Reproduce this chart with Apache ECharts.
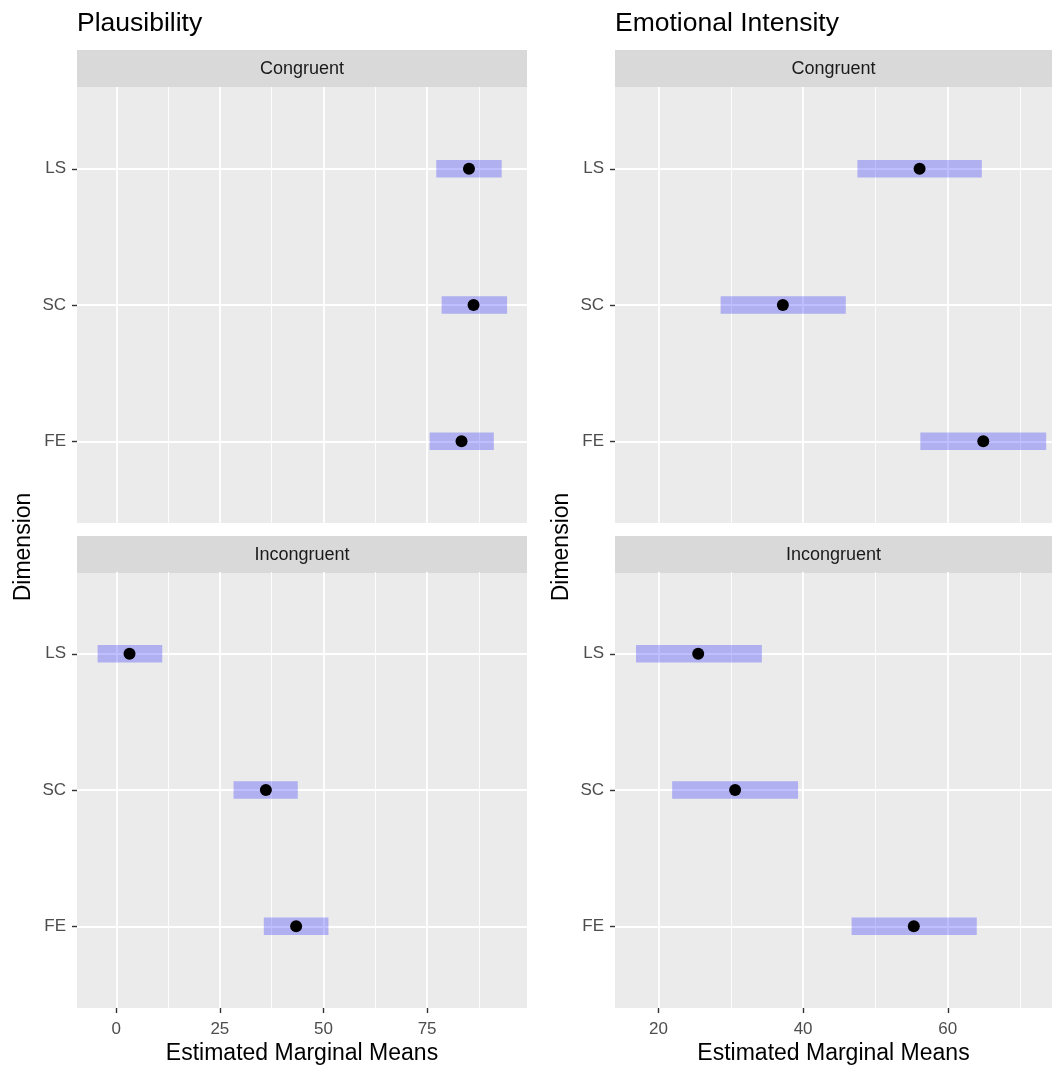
<!DOCTYPE html>
<html>
<head>
<meta charset="utf-8">
<script src="https://cdn.jsdelivr.net/npm/echarts@6/dist/echarts.min.js"></script>
<style>html,body{margin:0;padding:0;background:#fff}#c{width:1055px;height:1066px}</style>
</head>
<body>
<div id="c"></div>
<script>
// ---- data ----
const dims = ['FE', 'SC', 'LS'];
const facets = ['Congruent', 'Incongruent'];
const panelTitles = ['Plausibility', 'Emotional Intensity'];
const axisTitle = 'Estimated Marginal Means';
const yTitle = 'Dimension';

const plausCongMean  = [83.3, 86.2, 85.1];
const plausCongLower = [75.6, 78.5, 77.2];
const plausCongUpper = [91.1, 94.3, 93.0];

const plausIncMean  = [43.4, 36.1, 3.2];
const plausIncLower = [35.6, 28.3, -4.5];
const plausIncUpper = [51.2, 43.8, 11.1];

const emoCongMean  = [64.9, 37.2, 56.1];
const emoCongLower = [56.2, 28.6, 47.5];
const emoCongUpper = [73.6, 45.9, 64.7];

const emoIncMean  = [55.3, 30.6, 25.5];
const emoIncLower = [46.7, 21.9, 16.9];
const emoIncUpper = [64.0, 39.3, 34.3];

const plausTicks = [0, 25, 50, 75];
const plausMinor = [12.5, 37.5, 62.5, 87.5];
const emoTicks = [20, 40, 60];
const emoMinor = [30, 50, 70];

// ---- layout ----
const cols = [
  {left: 77, width: 450, min: -9.47, max: 99.1, ticks: plausTicks, minor: plausMinor,
   data: [[plausCongMean, plausCongLower, plausCongUpper], [plausIncMean, plausIncLower, plausIncUpper]]},
  {left: 615, width: 437, min: 14.0, max: 74.4, ticks: emoTicks, minor: emoMinor,
   data: [[emoCongMean, emoCongLower, emoCongUpper], [emoIncMean, emoIncLower, emoIncUpper]]}
];
const rows = [{top: 87, height: 436, stripTop: 50}, {top: 572, height: 436, stripTop: 536}];
const stripH = 37;
const FONT = 'Liberation Sans, Arial, sans-serif';

const grids = [], xAxes = [], yAxes = [], series = [], graphics = [];
const dimLevels = dims.map((d, i) => i + 1);

cols.forEach((col, ci) => {
  rows.forEach((row, ri) => {
    const gi = grids.length;
    const isBottom = ri === 1;
    grids.push({left: col.left, top: row.top, width: col.width, height: row.height,
      backgroundColor: '#EBEBEB', show: true, borderWidth: 0,
      containLabel: false, outerBoundsMode: 'none'});
    xAxes.push({
      type: 'value', gridIndex: gi, min: col.min, max: col.max, position: 'bottom',
      axisLine: {show: false, onZero: false},
      splitLine: {show: false},
      axisTick: {show: isBottom, length: 5, customValues: col.ticks, lineStyle: {color: '#333333', width: 1.4}},
      axisLabel: {show: isBottom, customValues: col.ticks, margin: 13, fontSize: 17,
        color: '#4D4D4D', fontFamily: FONT},
      name: isBottom ? axisTitle : '', nameLocation: 'middle', nameGap: 34,
      nameTextStyle: {fontSize: 23, color: '#000', fontFamily: FONT}
    });
    yAxes.push({
      type: 'value', gridIndex: gi, min: 0.4, max: 3.6, position: 'left',
      axisLine: {show: false, onZero: false},
      splitLine: {show: false},
      axisTick: {show: true, length: 5, customValues: dimLevels, lineStyle: {color: '#333333', width: 1.4}},
      axisLabel: {show: true, customValues: dimLevels, margin: 11, fontSize: 17, color: '#4D4D4D',
        fontFamily: FONT,
        formatter: v => dims[Math.round(v) - 1] || ''}
    });
    // gridlines
    const gl = [];
    col.minor.forEach(v => gl.push({xAxis: v, lineStyle: {color: '#FFFFFF', width: 0.9, type: 'solid'}}));
    col.ticks.forEach(v => gl.push({xAxis: v, lineStyle: {color: '#FFFFFF', width: 1.8, type: 'solid'}}));
    dimLevels.forEach(v => gl.push({yAxis: v, lineStyle: {color: '#FFFFFF', width: 1.8, type: 'solid'}}));
    series.push({
      type: 'line', xAxisIndex: gi, yAxisIndex: gi, data: [], z: 1, silent: true,
      markLine: {silent: true, z: 1, symbol: 'none', label: {show: false}, animation: false, data: gl}
    });
    const [mean, lower, upper] = col.data[ri];
    series.push({
      type: 'custom', xAxisIndex: gi, yAxisIndex: gi, z: 6, silent: true,
      data: dims.map((d, i) => [lower[i], upper[i], i + 1]),
      renderItem: (params, api) => {
        const p1 = api.coord([api.value(0), api.value(2)]);
        const p2 = api.coord([api.value(1), api.value(2)]);
        const h = api.size([0, 0.13])[1];
        return {type: 'rect', shape: {x: p1[0], y: p1[1] - h / 2, width: p2[0] - p1[0], height: h},
          style: {fill: 'rgba(0,0,255,0.25)'}};
      }
    });
    series.push({
      type: 'scatter', xAxisIndex: gi, yAxisIndex: gi, z: 7, silent: true,
      symbol: 'circle', symbolSize: 12, itemStyle: {color: '#000000', opacity: 1},
      data: dims.map((d, i) => [mean[i], i + 1])
    });
    // strip
    graphics.push({type: 'rect', left: col.left, top: row.stripTop,
      shape: {width: col.width, height: stripH}, style: {fill: '#D9D9D9'}});
    graphics.push({type: 'text', x: col.left + col.width / 2, y: row.stripTop + stripH / 2 + 1,
      style: {text: facets[ri], fontSize: 18, fill: '#1A1A1A', align: 'center', verticalAlign: 'middle',
        fontFamily: FONT}});
  });
  graphics.push({type: 'text', x: col.left, y: 24,
    style: {text: panelTitles[ci], fontSize: 26.5, fill: '#000', align: 'left', verticalAlign: 'middle',
      fontFamily: FONT}});
  graphics.push({type: 'text', x: col.left - 53, y: 547, rotation: Math.PI / 2,
    style: {text: yTitle, fontSize: 23, fill: '#000', align: 'center', verticalAlign: 'middle',
      fontFamily: FONT}});
});

const chart = echarts.init(document.getElementById('c'), null, {renderer: 'canvas'});
chart.setOption({
  animation: false,
  backgroundColor: '#FFFFFF',
  grid: grids, xAxis: xAxes, yAxis: yAxes, series: series,
  graphic: {elements: graphics}
});
</script>
</body>
</html>
